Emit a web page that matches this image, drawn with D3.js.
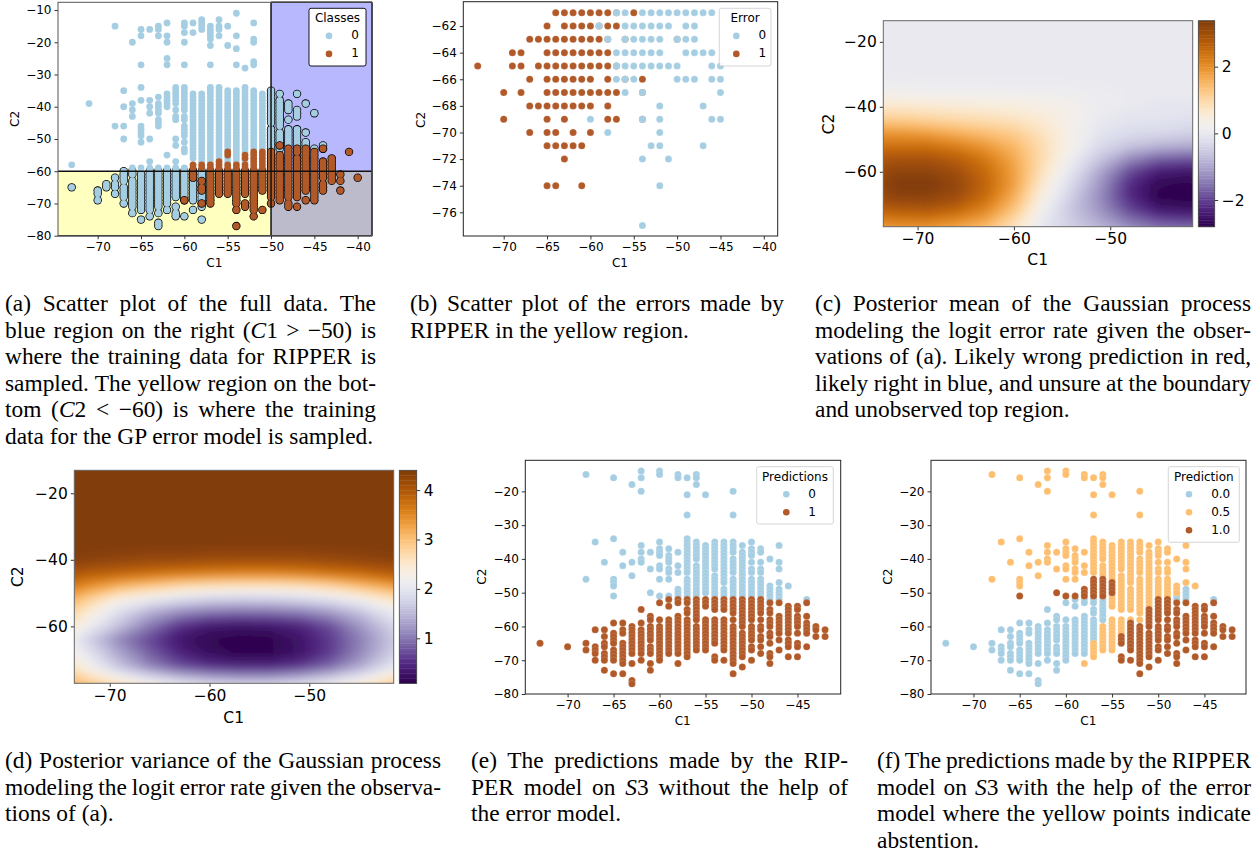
<!DOCTYPE html>
<html>
<head>
<meta charset="utf-8">
<script src="https://cdn.jsdelivr.net/npm/d3@7"></script>
<style>
body { margin: 0; background: #fff; }
text { font-family: "DejaVu Sans", sans-serif; fill: #000; }
.caption text { font-family: "Liberation Serif", serif; font-size: 23.4px; }
</style>
</head>
<body>
<div id="fig"></div>
<script>
var BLUE = '#a6cee3', BROWN = '#b15928', ORANGE = '#fdbf6f'

// (a) full data, columns of [C1, [C2...]]
var fullClass0 = [
	[-73, [-58,-65]], [-71, [-39]], [-70, [-66,-67,-69]], [-69, [-64,-65]],
	[-68, [-15,-46,-62,-64,-65,-67]],
	[-67, [-35,-40,-46,-50,-60,-61,-62,-63,-65,-66,-67,-68,-70]],
	[-66, [-20,-39,-41,-43,-59,-60,-61,-63,-64,-65,-66,-67,-68,-69,-70,-71,-73]],
	[-65, [-16,-18,-27,-34,-38,-46,-47,-48,-49,-51,-59,-61,-62,-63,-64,-65,-66,-67,-68,-69,-70,-71,-72,-75]],
	[-64, [-16,-38,-40,-42,-50,-57,-59,-60,-61,-62,-63,-64,-65,-66,-67,-68,-69,-70,-71,-72,-74]],
	[-63, [-15,-16,-18,-37,-39,-40,-41,-42,-44,-45,-46,-59,-60,-61,-62,-63,-64,-65,-66,-67,-68,-69,-70,-71,-73,-76,-77]],
	[-62, [-14,-18,-20,-25,-27,-36,-37,-38,-39,-40,-55,-59,-60,-61,-62,-63,-64,-65,-66,-67,-68,-69,-70,-72]],
	[-61, [-34,-35,-36,-37,-38,-39,-41,-43,-44,-50,-52,-57,-59,-60,-61,-62,-63,-64,-65,-66,-67,-68,-71,-73,-74]],
	[-60, [-14,-15,-17,-20,-27,-34,-35,-36,-37,-38,-39,-40,-41,-43,-44,-46,-47,-48,-49,-51,-53,-54,-59,-60,-61,-62,-63,-64,-65,-66,-67,-68,-69,-74]],
	[-59, [-14,-17,-36,-37,-38,-39,-40,-41,-42,-43,-44,-45,-46,-47,-48,-49,-50,-51,-52,-53,-54,-55,-56,-60,-61,-62,-63,-64,-65,-66,-67,-68,-69,-72]],
	[-58, [-13,-14,-15,-16,-36,-37,-38,-39,-40,-41,-42,-43,-44,-45,-46,-47,-48,-49,-50,-51,-52,-53,-54,-55,-56,-57,-60,-61,-62,-63,-64,-65,-66,-67,-68,-69,-70,-71,-75]],
	[-57, [-15,-16,-17,-18,-19,-21,-27,-34,-35,-36,-37,-38,-39,-40,-41,-42,-43,-44,-45,-46,-47,-48,-49,-50,-51,-52,-53,-54,-55,-56,-57]],
	[-56, [-13,-15,-16,-18,-34,-35,-36,-37,-38,-39,-40,-41,-42,-43,-44,-45,-46,-47,-48,-49,-50,-51,-52,-53,-54,-55,-56]],
	[-55, [-15,-21,-35,-36,-37,-38,-39,-40,-41,-42,-43,-44,-45,-46,-47,-48,-49,-50,-51,-52,-53,-56,-57]],
	[-54, [-11,-18,-22,-27,-35,-36,-37,-38,-39,-40,-41,-42,-43,-44,-45,-46,-47,-48,-49,-50,-51,-52,-53,-54,-55,-56,-57]],
	[-53, [-28,-34,-35,-36,-37,-38,-39,-40,-41,-42,-43,-44,-45,-46,-47,-48,-49,-50,-51,-52,-53,-54,-57]],
	[-52, [-14,-19,-20,-26,-27,-35,-36,-37,-38,-39,-40,-41,-42,-43,-44,-45,-46,-47,-48,-49,-50,-51,-52,-53]],
	[-51, [-36,-37,-38,-39,-40,-41,-42,-43,-44,-45,-46,-47,-48,-49,-50,-51,-52,-53]],
	[-50, [-35,-36,-37,-38,-39,-40,-41,-42,-43,-44,-45,-47,-48,-49,-50,-51,-52,-53]],
	[-49, [-36,-38,-39,-40,-41,-42,-43,-44,-45,-46,-48,-49,-50,-51,-52,-53]],
	[-48, [-39,-40,-41,-44,-47,-48,-49,-50,-51,-52]],
	[-47, [-36,-41,-42,-43,-47,-48,-49,-50,-51,-52,-53,-54,-55]],
	[-46, [-39,-48,-51,-52]], [-45, [-42,-53]], [-44, [-52,-53]]
]
var fullClass1 = [
	[-60, [-69]],
	[-59, [-58,-59,-60,-61,-62]],
	[-58, [-58,-59,-63,-65,-66,-70]],
	[-57, [-58,-59,-60,-61,-62,-63,-64,-65,-66,-67,-68,-69,-70]],
	[-56, [-57,-58,-59,-60,-61,-62,-63,-64,-65,-66,-67]],
	[-55, [-54,-55,-58,-59,-60,-61,-62,-63,-64,-65,-66,-67]],
	[-54, [-58,-59,-60,-61,-62,-63,-64,-65,-66,-67,-68,-69,-70,-72,-77]],
	[-53, [-55,-56,-58,-59,-60,-61,-62,-63,-64,-65,-66,-67,-70,-71]],
	[-52, [-54,-55,-56,-57,-58,-59,-60,-61,-62,-63,-64,-65,-66,-67,-68,-69,-70,-71,-72,-74]],
	[-51, [-54,-55,-56,-57,-58,-59,-60,-61,-62,-63,-64,-65,-66,-72]],
	[-50, [-54,-55,-56,-57,-58,-59,-60,-61,-62,-63,-64,-65,-66,-67,-68,-70]],
	[-49, [-52,-55,-56,-57,-58,-59,-60,-61,-62,-63,-64,-65,-66,-67,-68,-69]],
	[-48, [-53,-54,-55,-56,-57,-58,-59,-60,-61,-62,-63,-64,-65,-66,-67,-68,-70,-71]],
	[-47, [-53,-54,-56,-57,-58,-59,-60,-61,-62,-63,-64,-65,-66,-67,-68,-71]],
	[-46, [-53,-54,-55,-56,-57,-58,-59,-60,-61,-62,-63,-64,-65,-66,-69]],
	[-45, [-54,-55,-56,-57,-58,-59,-60,-61,-62,-63,-64,-65,-66,-67,-68,-69]],
	[-44, [-53,-57,-58,-59,-60,-61,-62,-64,-65,-66]],
	[-43, [-56,-57,-58,-59,-60,-61,-62,-63]],
	[-42, [-61,-63,-66]], [-41, [-54]], [-40, [-62]]
]

// (b) errors, rows of [C2, [C1...]]
var errorRight = [
	[-61, [-57,-56,-54,-53,-52,-51,-50,-49,-48,-47,-46]],
	[-62, [-59,-56,-55,-54,-53,-52,-51,-49,-48]],
	[-63, [-58,-56,-55,-54,-53,-52,-50,-49,-48]],
	[-64, [-57,-56,-55,-54,-53,-52,-49,-48,-47,-46]],
	[-65, [-57,-56,-55,-54,-53,-52,-51,-50,-46,-45]],
	[-66, [-57,-56,-55,-50,-49,-48,-46,-45]],
	[-67, [-56,-54,-45]],
	[-68, [-52,-47]],
	[-69, [-60,-54,-52,-46,-45]],
	[-70, [-58,-52]],
	[-71, [-53,-52,-47]],
	[-72, [-54,-51]],
	[-74, [-52]],
	[-77, [-54]]
]
var errorWrong = [
	[-61, [-64,-63,-62,-61,-60,-59,-58,-57,-55]],
	[-62, [-65,-63,-62,-61,-60,-59,-58,-57]],
	[-63, [-67,-66,-65,-64,-63,-62,-61,-60,-59,-58,-56,-50]],
	[-64, [-69,-68,-65,-64,-63,-62,-61,-60,-59,-58]],
	[-65, [-73,-69,-68,-66,-65,-64,-63,-62,-61,-60,-59,-58,-57]],
	[-66, [-67,-65,-64,-63,-62,-61,-60,-58,-56,-54]],
	[-67, [-70,-68,-65,-64,-63,-62,-61,-60,-59,-58,-57,-54]],
	[-68, [-67,-66,-65,-64,-63,-62,-61,-60,-58]],
	[-69, [-70,-65,-63,-58,-57,-54]],
	[-70, [-67,-65,-64,-62,-60]],
	[-71, [-65,-64,-63,-62,-61]],
	[-72, [-63]],
	[-74, [-65,-64,-61]]
]

// (c)(d) GP posterior, read at these grid lines
var gridC1 = [-75,-72,-69,-66,-63,-60,-57,-54,-51,-48,-45,-42,-39]
var gridC2 = [-12,-16,-20,-24,-28,-32,-36,-40,-44,-48,-52,-56,-60,-64,-68,-72,-76,-80]
var meanValues = [
	[0,0,0,0,0,0,0,0,0,0,0,0,0],
	[0,0,0,0,0,0,0,0,0,0,0,0,0],
	[0,0,0,0,0,0,0,0,0,0,0,0,0],
	[0,0,0,0,0,0,0,0,0,0,0,0,0],
	[0.02,0.02,0.02,0.02,0.02,0.02,0.02,0.02,0,0,0,0,0],
	[0.07,0.07,0.06,0.06,0.06,0.05,0.05,0.04,0.02,0,0,0,0],
	[0.25,0.25,0.22,0.2,0.2,0.2,0.18,0.15,0.1,0.05,0,0,0],
	[0.7,0.7,0.65,0.6,0.55,0.5,0.4,0.3,0.1,0,-0.05,-0.05,-0.05],
	[1.2,1.2,1.1,1,0.9,0.8,0.6,0.3,0,-0.1,-0.1,-0.15,-0.15],
	[1.9,1.9,1.8,1.6,1.4,1.2,0.8,0.3,-0.1,-0.25,-0.3,-0.4,-0.4],
	[2.4,2.4,2.4,2.2,1.9,1.5,0.9,0.3,-0.3,-0.6,-0.8,-0.9,-0.9],
	[2.8,2.9,2.9,2.7,2.3,1.7,0.9,0.1,-0.6,-1.3,-1.7,-1.8,-1.8],
	[3,3.2,3.2,3,2.5,1.8,0.8,-0.1,-1,-1.9,-2.4,-2.5,-2.4],
	[3.1,3.35,3.38,3.15,2.6,1.8,0.6,-0.3,-1.2,-2.2,-2.7,-2.75,-2.6],
	[3,3.2,3.2,3,2.45,1.6,0.4,-0.5,-1.3,-2.2,-2.75,-2.8,-2.7],
	[2.6,2.7,2.75,2.55,2.1,1.3,0.15,-0.6,-1.2,-1.9,-2.4,-2.5,-2.4],
	[2,2.1,2.1,1.9,1.6,0.9,0,-0.5,-0.9,-1.4,-1.7,-1.8,-1.7],
	[1.4,1.5,1.5,1.4,1.1,0.6,-0.1,-0.4,-0.6,-0.9,-1.2,-1.2,-1.2]
]
var varianceValues = [
	[4.4,4.4,4.4,4.4,4.4,4.4,4.4,4.4,4.4,4.4,4.4,4.4,4.4],
	[4.4,4.4,4.4,4.4,4.4,4.4,4.4,4.4,4.4,4.4,4.4,4.4,4.4],
	[4.4,4.4,4.4,4.4,4.4,4.4,4.4,4.4,4.4,4.4,4.4,4.4,4.4],
	[4.4,4.4,4.4,4.4,4.4,4.4,4.4,4.4,4.4,4.4,4.4,4.4,4.4],
	[4.4,4.4,4.4,4.4,4.4,4.4,4.4,4.4,4.4,4.4,4.4,4.4,4.4],
	[4.4,4.4,4.4,4.4,4.4,4.4,4.39,4.39,4.4,4.4,4.4,4.4,4.4],
	[4.4,4.39,4.38,4.37,4.36,4.35,4.35,4.35,4.35,4.36,4.37,4.38,4.39],
	[4.35,4.3,4.25,4.2,4.2,4.15,4.15,4.15,4.15,4.2,4.25,4.3,4.3],
	[4.1,3.95,3.85,3.75,3.65,3.6,3.55,3.55,3.6,3.7,3.8,3.95,4.05],
	[3.7,3.4,3.1,2.9,2.7,2.6,2.55,2.55,2.6,2.75,3,3.25,3.55],
	[3.3,2.8,2.3,2.05,1.85,1.72,1.68,1.7,1.78,1.92,2.15,2.5,2.9],
	[3,2.4,1.85,1.4,1.1,0.95,0.9,0.92,1,1.2,1.55,2,2.5],
	[2.75,2.1,1.55,1,0.55,0.32,0.27,0.3,0.42,0.72,1.2,1.7,2.2],
	[2.4,1.7,1.1,0.7,0.32,0.15,0.1,0.12,0.3,0.6,1.05,1.55,2.1],
	[2.55,1.95,1.35,0.85,0.45,0.22,0.12,0.13,0.28,0.62,1.1,1.65,2.2],
	[2.75,2.2,1.6,1.1,0.75,0.55,0.48,0.48,0.6,0.9,1.35,1.9,2.45],
	[3.15,2.75,2.35,2,1.7,1.5,1.4,1.4,1.55,1.8,2.15,2.6,3],
	[3.5,3.2,2.95,2.75,2.65,2.55,2.5,2.5,2.55,2.65,2.85,3.15,3.45]
]

// (e) plain RIPPER predictions
var predZero = [
	[-68, [-15,-46]], [-67, [-35]], [-66, [-41]], [-65, [-16,-34,-46,-47,-48,-51]],
	[-64, [-38,-42]], [-63, [-18,-41,-45]], [-62, [-14,-16,-20,-36,-38,-40,-41]],
	[-61, [-38,-43,-50]], [-60, [-14,-15,-35,-37,-38,-39,-42,-43,-46,-51]],
	[-59, [-37,-39,-40,-41,-43,-44,-46,-51]], [-58, [-15,-16,-38,-42,-44,-49,-50,-51]],
	[-57, [-16,-21,-27,-34,-35,-36,-37,-38,-39,-40,-41,-42,-43,-44,-46,-47,-48,-49,-50,-51]],
	[-56, [-15,-16,-18,-35,-36,-37,-38,-39,-40,-42,-43,-44,-45,-46,-47,-48,-49,-50,-51]],
	[-55, [-21,-36,-37,-38,-39,-40,-41,-42,-43,-44,-45,-46,-47,-48,-49,-50]],
	[-54, [-35,-36,-37,-38,-39,-40,-41,-42,-43,-45,-46,-47,-48,-49,-50,-51]],
	[-53, [-35,-36,-37,-38,-39,-40,-41,-42,-43,-44,-45,-46,-47,-49,-50,-51]],
	[-52, [-20,-27,-35,-36,-37,-38,-40,-41,-42,-43,-44,-46,-47,-48,-49,-50,-51]],
	[-51, [-36,-38,-39,-40,-41,-42,-43,-44,-45,-46,-47,-48,-49,-50,-51]],
	[-50, [-35,-37,-38,-39,-41,-43,-44,-46,-47,-48,-49,-50,-51]],
	[-49, [-37,-38,-41,-43,-44,-46,-47,-48,-49,-50,-51]],
	[-48, [-40,-48,-49,-50,-51,-52]], [-47, [-36,-41,-43,-47,-49,-50,-51,-52]],
	[-46, [-48]], [-44, [-52]]
]
var predOne = [
	[-73, [-65]], [-70, [-66]], [-68, [-65,-67]], [-67, [-61,-66,-67,-68,-70]],
	[-66, [-61,-63,-65,-66,-68,-69,-70,-73]],
	[-65, [-59,-62,-63,-64,-65,-67,-68,-69,-70,-74]],
	[-64, [-59,-61,-62,-65,-66,-67,-68,-69,-70,-71,-74]],
	[-63, [-60,-61,-62,-63,-64,-65,-66,-67,-68,-71,-76,-77]],
	[-62, [-55,-59,-61,-62,-63,-64,-65,-66,-67,-68,-70]],
	[-61, [-57,-58,-60,-61,-62,-63,-64,-66,-67,-68,-71,-73]],
	[-60, [-53,-58,-60,-61,-62,-63,-64,-65,-66,-67,-68,-69,-70]],
	[-59, [-52,-54,-58,-59,-60,-61,-62,-63,-64,-65,-66,-67,-68]],
	[-58, [-52,-53,-57,-58,-59,-60,-61,-62,-63,-64,-65,-66,-67,-68,-71]],
	[-57, [-52,-53,-55,-56,-58,-59,-60,-61,-62,-63,-64,-65,-66,-67,-68,-69]],
	[-56, [-52,-53,-54,-55,-56,-57,-58,-60,-61,-62,-63,-64,-65,-66,-67]],
	[-55, [-52,-53,-54,-58,-59,-60,-61,-62,-63,-64,-65,-66,-67]],
	[-54, [-52,-53,-54,-55,-58,-59,-60,-61,-62,-63,-64,-65,-69,-70]],
	[-53, [-52,-53,-54,-55,-58,-59,-60,-61,-62,-63,-64,-65,-66,-67,-70]],
	[-52, [-52,-53,-54,-55,-56,-58,-60,-61,-62,-63,-64,-65,-66,-67,-68,-69,-70,-71,-74]],
	[-51, [-52,-53,-54,-55,-56,-57,-58,-59,-60,-62,-63,-64,-65,-66,-67,-68,-69,-72]],
	[-50, [-52,-53,-54,-55,-56,-57,-58,-60,-61,-62,-63,-64,-66,-67,-70]],
	[-49, [-52,-53,-54,-55,-56,-58,-60,-61,-63,-64,-66,-68]],
	[-48, [-53,-55,-56,-58,-59,-60,-62,-63,-65,-68,-69,-71]],
	[-47, [-53,-57,-58,-59,-60,-61,-62,-64,-67]],
	[-46, [-54,-55,-56,-57,-58,-59,-60,-61,-62,-64,-65,-66,-69]],
	[-45, [-54,-55,-57,-58,-59,-60,-62,-65,-66,-69]],
	[-44, [-53,-57,-59,-60,-61,-62,-66]], [-43, [-60,-61,-63]], [-42, [-61,-63]]
]

// (f) predictions with abstention
var abstainZero = [
	[-73, [-65]], [-70, [-66]], [-68, [-65,-67]], [-67, [-61,-66,-67,-68,-70]],
	[-66, [-61,-63,-65,-66,-68,-69,-70,-73]],
	[-65, [-59,-62,-63,-64,-65,-67,-68,-69,-70,-74]],
	[-64, [-59,-61,-62,-65,-66,-67,-68,-69,-70,-71,-74]],
	[-63, [-60,-61,-62,-63,-64,-65,-66,-67,-68,-71,-76,-77]],
	[-62, [-55,-59,-61,-62,-63,-64,-65,-66,-67,-68,-70]],
	[-61, [-57,-58,-60,-61,-62,-63,-64,-66,-67,-68,-71,-73]],
	[-60, [-53,-58,-60,-61,-62,-63,-64,-65,-66,-67,-68,-69,-70]],
	[-59, [-52,-54,-58,-59,-60,-61,-62,-63,-64,-65,-66,-67,-68]],
	[-58, [-52,-53,-57,-58,-59,-60,-61,-62,-63,-64,-65,-66,-67,-68]],
	[-57, [-52,-53,-55,-56,-58,-59,-60,-61,-62,-63,-64]],
	[-56, [-52,-53,-54,-55,-56,-57,-58]],
	[-48, [-51,-52]], [-47, [-49,-50,-51,-52]], [-44, [-52]]
]
var abstainHalf = [
	[-68, [-15,-46]], [-67, [-35]], [-66, [-41]], [-65, [-16,-34,-46,-47,-48]],
	[-64, [-38,-42]], [-63, [-18,-41,-45]], [-62, [-14,-16,-20,-36,-38,-40,-41]],
	[-61, [-38,-43]], [-60, [-14,-15,-35,-37,-38,-39,-42,-43,-46]],
	[-59, [-37,-39,-40,-41,-43,-44,-46]], [-58, [-15,-16,-38,-42,-44,-71]],
	[-57, [-16,-21,-27,-34,-35,-36,-37,-38,-39,-40,-41,-42,-43,-44,-65,-66,-67,-68,-69]],
	[-56, [-15,-16,-18,-35,-36,-37,-38,-39,-40,-42,-43,-44,-45,-60,-61,-62,-63,-64,-65,-66,-67]],
	[-55, [-21,-36,-37,-38,-39,-40,-41,-42,-43,-44,-45,-46,-51,-52,-53,-54,-58,-59,-60,-61,-62,-63,-64,-65,-66,-67]],
	[-54, [-35,-36,-37,-38,-39,-40,-41,-42,-43,-45,-46,-47,-48,-49,-50,-51,-52,-53,-54,-55,-58,-59,-60,-61,-62]],
	[-53, [-35,-36,-37,-38,-39,-40,-41,-42,-43,-44,-45,-46,-47,-49,-50,-51,-52,-53,-54,-55,-58]],
	[-52, [-20,-27,-35,-36,-37,-38,-40,-41,-42,-43,-44,-46,-47,-48,-49,-50,-51,-52,-53,-54,-55,-56,-58]],
	[-51, [-36,-38,-39,-40,-41,-42,-43,-44,-45,-46,-47,-48,-49,-50,-51,-52,-53,-54]],
	[-50, [-35,-37,-38,-39,-41,-43,-44,-46,-47,-48,-49,-50,-51]],
	[-49, [-37,-38,-41,-43,-44,-46,-47,-48,-49,-50,-51]],
	[-48, [-40,-48,-49,-50]], [-47, [-36,-41,-43,-47]], [-46, [-48]]
]
var abstainOne = [
	[-65, [-51]], [-61, [-50]], [-60, [-51]], [-59, [-51]], [-58, [-49,-50,-51]],
	[-57, [-46,-47,-48,-49,-50,-51]], [-56, [-46,-47,-48,-49,-50,-51]], [-55, [-47,-48,-49,-50]],
	[-54, [-63,-64,-65,-69,-70]],
	[-53, [-59,-60,-61,-62,-63,-64,-65,-66,-67,-70]],
	[-52, [-60,-61,-62,-63,-64,-65,-66,-67,-68,-69,-70,-71,-74]],
	[-51, [-55,-56,-57,-58,-59,-60,-62,-63,-64,-65,-66,-67,-68,-69,-72]],
	[-50, [-52,-53,-54,-55,-56,-57,-58,-60,-61,-62,-63,-64,-66,-67,-70]],
	[-49, [-52,-53,-54,-55,-56,-58,-60,-61,-63,-64,-66,-68]],
	[-48, [-53,-55,-56,-58,-59,-60,-62,-63,-65,-68,-69,-71]],
	[-47, [-53,-57,-58,-59,-60,-61,-62,-64,-67]],
	[-46, [-54,-55,-56,-57,-58,-59,-60,-61,-62,-64,-65,-66,-69]],
	[-45, [-54,-55,-57,-58,-59,-60,-62,-65,-66,-69]],
	[-44, [-53,-57,-59,-60,-61,-62,-66]], [-43, [-60,-61,-63]], [-42, [-61,-63]]
]

var captions = [
	{ x: 5, right: 376, y: 311, lines: ['(a) Scatter plot of the full data. The', 'blue region on the right (*C*1 > −50) is', 'where the training data for RIPPER is', 'sampled. The yellow region on the bot-', 'tom (*C*2 < −60) is where the training', 'data for the GP error model is sampled.'] },
	{ x: 410, right: 784, y: 311, lines: ['(b) Scatter plot of the errors made by', 'RIPPER in the yellow region.'] },
	{ x: 815, right: 1251, y: 311, lines: ['(c) Posterior mean of the Gaussian process', 'modeling the logit error rate given the obser-', 'vations of (a). Likely wrong prediction in red,', 'likely right in blue, and unsure at the boundary', 'and unobserved top region.'] },
	{ x: 5, right: 441, y: 768, lines: ['(d) Posterior variance of the Gaussian process', 'modeling the logit error rate given the observa-', 'tions of (a).'] },
	{ x: 471, right: 848, y: 768, lines: ['(e) The predictions made by the RIP-', 'PER model on *S*3 without the help of', 'the error model.'] },
	{ x: 877, right: 1251, y: 768, lines: ['(f) The predictions made by the RIPPER', 'model on *S*3 with the help of the error', 'model where the yellow points indicate', 'abstention.'] }
]

var svg = d3.select('#fig').append('svg')
	.attr('width', 1258)
	.attr('height', 853)
	.style('display', 'block')

var clipCount = 0

function columnPoints(cols) {
	var pts = []
	cols.forEach(function(c) {
		c[1].forEach(function(v) { pts.push([c[0], v]) })
	})
	return pts
}

function rowPoints(rows) {
	var pts = []
	rows.forEach(function(r) {
		r[1].forEach(function(v) { pts.push([v, r[0]]) })
	})
	return pts
}

// one matplotlib style axes: scales, ticks, labels
function makeAxes(o) {
	var xScale = d3.scaleLinear().domain(o.xDomain).range([o.left, o.right])
	var yScale = d3.scaleLinear().domain(o.yDomain).range([o.bottom, o.top])
	var g = svg.append('g')
	var body = g.append('g')
	var fs = o.fontSize || 12

	var ax = g.append('g')
		.attr('transform', 'translate(0,' + o.bottom + ')')
		.call(d3.axisBottom(xScale).tickValues(o.xTicks).tickSize(o.tick || 3.5).tickPadding(o.pad || 3))
	var ay = g.append('g')
		.attr('transform', 'translate(' + o.left + ',0)')
		.call(d3.axisLeft(yScale).tickValues(o.yTicks).tickSize(o.tick || 3.5).tickPadding(o.pad || 3))
	;[ax, ay].forEach(function(a) {
		a.select('.domain').remove()
		a.selectAll('text').style('font-size', fs + 'px').style('font-family', '"DejaVu Sans"')
		a.selectAll('line').attr('stroke', '#000').attr('stroke-width', 0.8)
	})

	g.append('text').attr('x', o.xLabel[0]).attr('y', o.xLabel[1])
		.attr('text-anchor', 'middle').attr('dominant-baseline', 'middle')
		.style('font-size', fs + 'px').text('C1')
	g.append('text')
		.attr('transform', 'translate(' + o.yLabel[0] + ',' + o.yLabel[1] + ') rotate(-90)')
		.attr('text-anchor', 'middle').attr('dominant-baseline', 'middle')
		.style('font-size', fs + 'px').text('C2')

	g.append('rect')
		.attr('x', o.left).attr('y', o.top)
		.attr('width', o.right - o.left).attr('height', o.bottom - o.top)
		.attr('fill', 'none').attr('stroke', o.frame || '#222').attr('stroke-width', 1)

	return { x: xScale, y: yScale, body: body, g: g }
}

function drawDots(a, pts, color, r) {
	a.body.append('g').selectAll('circle')
		.data(pts)
		.enter().append('circle')
		.attr('cx', function(d) { return a.x(d[0]) })
		.attr('cy', function(d) { return a.y(d[1]) })
		.attr('r', r || 3.5)
		.attr('fill', color)
		.attr('stroke', '#fff')
		.attr('stroke-width', 0.15)
}

function drawLegend(g, o) {
	var box = g.append('g')
	box.append('rect')
		.attr('x', o.x0).attr('y', o.y0)
		.attr('width', o.x1 - o.x0).attr('height', o.y1 - o.y0)
		.attr('rx', 2)
		.attr('fill', '#fff').attr('fill-opacity', o.edge == '#000' ? 1 : 0.85)
		.attr('stroke', o.edge).attr('stroke-width', o.edge == '#000' ? 0.9 : 0.8)
	box.append('text')
		.attr('x', (o.x0 + o.x1) / 2).attr('y', o.y0 + 10.5)
		.attr('text-anchor', 'middle').attr('dominant-baseline', 'middle')
		.style('font-size', '12px').text(o.title)
	o.labels.forEach(function(t, i) {
		var cy = o.y0 + 27.6 + i * 18
		box.append('circle').attr('cx', o.mark).attr('cy', cy).attr('r', 3.3).attr('fill', o.colors[i])
		box.append('text').attr('x', o.label).attr('y', cy)
			.attr('text-anchor', 'middle').attr('dominant-baseline', 'middle')
			.style('font-size', '12px').text(t)
	})
}

// smooth field from the read grid, nested iso bands from d3.contours
function drawHeat(a, values, color, lo, hi) {
	clipCount++
	var clipId = 'clip' + clipCount
	var filterId = 'soft' + clipCount
	svg.append('clipPath').attr('id', clipId).append('rect')
		.attr('x', a.x.range()[0]).attr('y', a.y.range()[1])
		.attr('width', a.x.range()[1] - a.x.range()[0])
		.attr('height', a.y.range()[0] - a.y.range()[1])
	svg.append('filter').attr('id', filterId)
		.attr('x', '-10%').attr('y', '-10%').attr('width', '120%').attr('height', '120%')
		.append('feGaussianBlur').attr('stdDeviation', 4)

	var n = gridC1.length, m = gridC2.length
	var gx = d3.scaleLinear().domain([0.5, n - 0.5]).range([a.x(gridC1[0]), a.x(gridC1[n - 1])])
	var gy = d3.scaleLinear().domain([0.5, m - 0.5]).range([a.y(gridC2[0]), a.y(gridC2[m - 1])])
	var path = d3.geoPath(d3.geoTransform({
		point: function(px, py) { this.stream.point(gx(px), gy(py)) }
	}))

	var step = (hi - lo) / 80
	var levels = d3.range(0, 80).map(function(i) { return lo + i * step })
	levels[0] = lo - 1
	var bands = d3.contours().size([n, m]).thresholds(levels)(values.flat())

	a.body.append('g').attr('clip-path', 'url(#' + clipId + ')')
		.append('g').attr('filter', 'url(#' + filterId + ')')
		.selectAll('path')
		.data(bands)
		.enter().append('path')
		.attr('d', path)
		.attr('fill', function(d, i) { return color(lo + (i + 0.5) * step) })
}

function drawColorbar(o, color) {
	var y = d3.scaleLinear().domain(o.domain).range([o.bottom, o.top])
	var g = svg.append('g')
	var cells = d3.range(0, 128)
	var h = (o.bottom - o.top) / 128
	g.selectAll('rect').data(cells).enter().append('rect')
		.attr('x', o.left)
		.attr('y', function(i) { return o.bottom - (i + 1) * h })
		.attr('width', o.right - o.left)
		.attr('height', h + 0.4)
		.attr('fill', function(i) { return color(o.domain[0] + (i + 0.5) / 128 * (o.domain[1] - o.domain[0])) })
	var ax = g.append('g').attr('transform', 'translate(' + o.right + ',0)')
		.call(d3.axisRight(y).tickValues(o.ticks).tickSize(3.5).tickPadding(3.5).tickFormat(d3.format('d')))
	ax.select('.domain').remove()
	ax.selectAll('text').style('font-size', '15.5px').style('font-family', '"DejaVu Sans"')
	ax.selectAll('line').attr('stroke', '#000').attr('stroke-width', 0.8)
	g.append('rect').attr('x', o.left).attr('y', o.top)
		.attr('width', o.right - o.left).attr('height', o.bottom - o.top)
		.attr('fill', 'none').attr('stroke', '#444').attr('stroke-width', 0.8)
}

function drawFull() {
	var a = makeAxes({
		left: 58, right: 372, top: 2.3, bottom: 235.7,
		xDomain: [-74.58, -38.35], yDomain: [-80, -7.6],
		xTicks: [-70,-65,-60,-55,-50,-45,-40],
		yTicks: [-10,-20,-30,-40,-50,-60,-70,-80],
		xLabel: [214.3, 263], yLabel: [15.7, 119], frame: '#555'
	})
	var x = a.x, y = a.y
	var regions = [
		[-74.58, -50, -60, -80, '#ffffc0'],
		[-50, -38.35, -7.6, -60, '#b8b8ff'],
		[-50, -38.35, -60, -80, '#bbbbcc']
	]
	a.body.append('g').selectAll('rect').data(regions).enter().append('rect')
		.attr('x', function(d) { return x(d[0]) })
		.attr('y', function(d) { return y(d[2]) })
		.attr('width', function(d) { return x(d[1]) - x(d[0]) })
		.attr('height', function(d) { return y(d[3]) - y(d[2]) })
		.attr('fill', function(d) { return d[4] })
	var outline = [[-50, -7.6, -50, -80], [-74.58, -60, -38.35, -60], [-74.58, -80, -38.35, -80], [-38.35, -7.6, -38.35, -80], [-50, -7.6, -38.35, -7.6]]
	var inside = function(d) { return d[0] >= -50 || d[1] <= -60 }

	;[[fullClass0, BLUE], [fullClass1, BROWN]].forEach(function(s) {
		var pts = columnPoints(s[0])
		a.body.append('g').selectAll('circle').data(pts.filter(inside)).enter().append('circle')
			.attr('cx', function(d) { return x(d[0]) })
			.attr('cy', function(d) { return y(d[1]) })
			.attr('r', 4.2)
			.attr('fill', '#000')
		a.body.append('g').selectAll('circle').data(pts).enter().append('circle')
			.attr('cx', function(d) { return x(d[0]) })
			.attr('cy', function(d) { return y(d[1]) })
			.attr('r', 3.4)
			.attr('fill', s[1])
	})

	a.body.append('g').selectAll('line').data(outline).enter().append('line')
		.attr('x1', function(d) { return x(d[0]) })
		.attr('y1', function(d) { return y(d[1]) })
		.attr('x2', function(d) { return x(d[2]) })
		.attr('y2', function(d) { return y(d[3]) })
		.attr('stroke', '#111').attr('stroke-width', 1.5)

	drawLegend(a.g, { x0: 309, x1: 366, y0: 8.3, y1: 66, edge: '#000', title: 'Classes',
		labels: ['0', '1'], colors: [BLUE, BROWN], mark: 329, label: 355 })
}

function drawErrors() {
	var a = makeAxes({
		left: 463.3, right: 777.7, top: 1.7, bottom: 236,
		xDomain: [-74.66, -38.4], yDomain: [-77.78, -60.17],
		xTicks: [-70,-65,-60,-55,-50,-45,-40],
		yTicks: [-62,-64,-66,-68,-70,-72,-74,-76],
		xLabel: [620, 263], yLabel: [421, 120]
	})
	drawDots(a, rowPoints(errorWrong), BROWN)
	drawDots(a, rowPoints(errorRight), BLUE)
	drawLegend(a.g, { x0: 719.3, x1: 771, y0: 8.3, y1: 66, edge: '#ccc', title: 'Error',
		labels: ['0', '1'], colors: [BLUE, BROWN], mark: 736.3, label: 762.3 })
}

function drawMean() {
	var a = makeAxes({
		left: 883.3, right: 1192.7, top: 20.7, bottom: 226.7,
		xDomain: [-73.56, -41.44], yDomain: [-76.9, -13.5],
		xTicks: [-70,-60,-50], yTicks: [-20,-40,-60],
		xLabel: [1037.7, 260], yLabel: [829, 124], fontSize: 15.5, frame: '#666'
	})
	var color = d3.scaleSequential(d3.interpolatePuOr).domain([-2.8, 3.38])
	drawHeat(a, meanValues, color, -2.8, 3.38)
	drawColorbar({ left: 1198.3, right: 1214.7, top: 20.7, bottom: 226.7, domain: [-2.8, 3.38], ticks: [-2, 0, 2] }, color)
}

function drawVariance() {
	var a = makeAxes({
		left: 74.3, right: 393.7, top: 470.3, bottom: 683.3,
		xDomain: [-73.55, -41.54], yDomain: [-77.1, -13.1],
		xTicks: [-70,-60,-50], yTicks: [-20,-40,-60],
		xLabel: [233.7, 718], yLabel: [18.3, 576.7], fontSize: 15.5, frame: '#666'
	})
	var color = d3.scaleSequential(d3.interpolatePuOr).domain([0.09, 4.4])
	drawHeat(a, varianceValues, color, 0.09, 4.4)
	drawColorbar({ left: 399.3, right: 416.7, top: 470.3, bottom: 683.3, domain: [0.09, 4.4], ticks: [1, 2, 3, 4] }, color)
}

function drawPredictions() {
	var a = makeAxes({
		left: 525.3, right: 840.7, top: 460.3, bottom: 694,
		xDomain: [-74.6, -40.3], yDomain: [-80, -10.8],
		xTicks: [-70,-65,-60,-55,-50,-45],
		yTicks: [-20,-30,-40,-50,-60,-70,-80],
		xLabel: [682.7, 721.7], yLabel: [482.7, 576.7]
	})
	drawDots(a, columnPoints(predZero), BLUE)
	drawDots(a, columnPoints(predOne), BROWN)
	drawLegend(a.g, { x0: 756.7, x1: 833.3, y0: 466.7, y1: 524, edge: '#ccc', title: 'Predictions',
		labels: ['0', '1'], colors: [BLUE, BROWN], mark: 786.3, label: 812 })
}

function drawAbstain() {
	var a = makeAxes({
		left: 931, right: 1246, top: 460.3, bottom: 694,
		xDomain: [-74.6, -40.5], yDomain: [-80, -10.8],
		xTicks: [-70,-65,-60,-55,-50,-45],
		yTicks: [-20,-30,-40,-50,-60,-70,-80],
		xLabel: [1088.3, 721.7], yLabel: [888.3, 576.7]
	})
	drawDots(a, columnPoints(abstainZero), BLUE)
	drawDots(a, columnPoints(abstainHalf), ORANGE)
	drawDots(a, columnPoints(abstainOne), BROWN)
	drawLegend(a.g, { x0: 1168.3, x1: 1239.3, y0: 466.7, y1: 542.3, edge: '#ccc', title: 'Prediction',
		labels: ['0.0', '0.5', '1.0'], colors: [BLUE, ORANGE, BROWN], mark: 1189, label: 1220.7 })
}

function drawCaptions() {
	var g = svg.append('g').attr('class', 'caption')
	captions.forEach(function(c) {
		c.lines.forEach(function(line, i) {
			var t = g.append('text').attr('x', c.x).attr('y', c.y + i * 26.6)
			line.split('*').forEach(function(part, k) {
				t.append('tspan').style('font-style', k % 2 ? 'italic' : 'normal').text(part)
			})
			// justify all but the last line of a block
			if (i < c.lines.length - 1) {
				var spaces = line.split(' ').length - 1
				var extra = (c.right - c.x - t.node().getComputedTextLength()) / spaces
				t.style('word-spacing', extra + 'px')
			}
		})
	})
}

drawFull()
drawErrors()
drawMean()
drawVariance()
drawPredictions()
drawAbstain()
drawCaptions()
</script>
</body>
</html>
